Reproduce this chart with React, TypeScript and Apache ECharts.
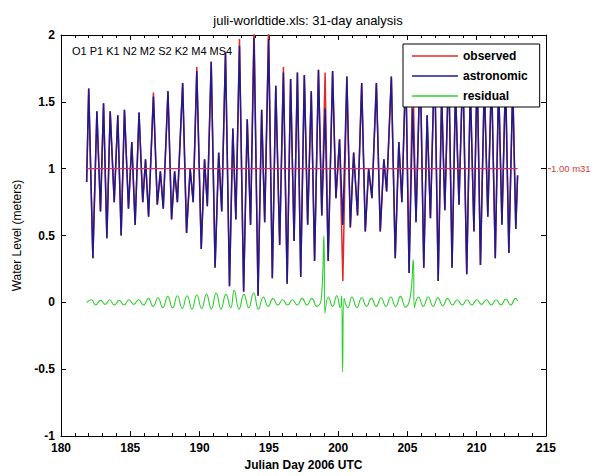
import React, { useEffect, useRef } from "react";
import * as echarts from "echarts";

const titleText = "juli-worldtide.xls: 31-day analysis";
const constituentsText = "O1 P1 K1 N2 M2 S2 K2 M4 MS4";
const xAxisName = "Julian Day 2006 UTC";
const yAxisName = "Water Level (meters)";
const seriesNames = ["observed", "astronomic", "residual"];
const meanLevel = 1.0;
const meanLabel = "1.00 m31";
const meanSpan = [181.85, 212.95];

// astronomic tide: successive highs/lows [julian day, level m]
const astronomic: [number, number][] = [
  [181.85, 0.9], [182.0, 1.6], [182.3, 0.33], [182.59, 1.43], [182.85, 0.68],
  [183.07, 1.49], [183.31, 0.48], [183.55, 1.43], [183.84, 0.75], [184.1, 1.4],
  [184.34, 0.5], [184.58, 1.44], [184.87, 0.7], [185.11, 1.2], [185.35, 0.58],
  [185.63, 1.42], [185.9, 0.75], [186.1, 1.07], [186.32, 0.64], [186.67, 1.54],
  [186.95, 0.73], [187.17, 0.98], [187.38, 0.7], [187.72, 1.58], [187.98, 0.62],
  [188.2, 0.98], [188.4, 0.75], [188.78, 1.64], [189.06, 0.52], [189.32, 1.0],
  [189.54, 0.75], [189.8, 1.73], [190.12, 0.4], [190.36, 1.07], [190.56, 0.72],
  [190.84, 1.8], [191.12, 0.26], [191.38, 1.12], [191.6, 0.68], [191.87, 1.87],
  [192.16, 0.12], [192.4, 1.3], [192.62, 0.62], [192.88, 1.92], [193.18, 0.08],
  [193.44, 1.37], [193.68, 0.58], [193.93, 1.98], [194.22, 0.05], [194.48, 1.44],
  [194.7, 0.6], [194.98, 1.97], [195.25, 0.18], [195.5, 1.62], [195.78, 0.43],
  [196.05, 1.72], [196.32, 0.14], [196.57, 1.67], [196.82, 0.46], [197.06, 1.72],
  [197.3, 0.19], [197.56, 1.7], [197.8, 0.58], [198.06, 1.58], [198.3, 0.31],
  [198.58, 1.74], [198.82, 0.65], [199.06, 1.45], [199.28, 0.31], [199.6, 1.73],
  [199.84, 0.78], [200.1, 1.22], [200.34, 0.58], [200.63, 1.69], [200.88, 0.56],
  [201.12, 1.12], [201.4, 0.65], [201.7, 1.64], [201.96, 0.53], [202.2, 1.0],
  [202.44, 0.78], [202.76, 1.64], [203.04, 0.53], [203.3, 1.07], [203.5, 0.83],
  [203.84, 1.69], [204.12, 0.33], [204.38, 1.2], [204.6, 0.75], [204.88, 1.76],
  [205.12, 0.22], [205.38, 1.45], [205.62, 0.6], [205.92, 1.82], [206.18, 0.26],
  [206.42, 1.4], [206.66, 0.63], [206.96, 1.84], [207.22, 0.16], [207.47, 1.55],
  [207.7, 0.69], [207.98, 1.8], [208.22, 0.26], [208.47, 1.6], [208.72, 0.73],
  [209.0, 1.78], [209.28, 0.21], [209.54, 1.62], [209.8, 0.53], [210.03, 1.75],
  [210.27, 0.28], [210.55, 1.65], [210.8, 0.64], [211.07, 1.7], [211.34, 0.33],
  [211.58, 1.65], [211.82, 0.58], [212.08, 1.68], [212.32, 0.37], [212.6, 1.62],
  [212.82, 0.55], [212.95, 0.95],
];

// observed levels where they differ from the astronomic prediction
const observedOverrides: [number, number][] = [
  [186.67, 1.57], [189.8, 1.76], [192.88, 1.97], [193.93, 2.08], [194.98, 2.06],
  [196.05, 1.76], [199.06, 1.72], [200.34, 0.16], [205.38, 1.77],
];

// residual (observed - astronomic)
const residual: [number, number][] = [
  [181.85, 0.0], [182.2, 0.02], [182.5, -0.02], [182.85, 0.015], [183.2, -0.015],
  [183.5, 0.02], [183.85, -0.02], [184.2, 0.015], [184.55, -0.02], [184.9, 0.02],
  [185.25, -0.015], [185.6, 0.02], [185.95, -0.02], [186.3, 0.03], [186.65, -0.03],
  [187.0, 0.035], [187.35, -0.04], [187.7, 0.045], [188.05, -0.04], [188.4, 0.05],
  [188.75, -0.045], [189.1, 0.05], [189.45, -0.05], [189.8, 0.055], [190.15, -0.045],
  [190.5, 0.06], [190.85, -0.05], [191.2, 0.07], [191.55, -0.05], [191.9, 0.06],
  [192.25, -0.04], [192.5, 0.09], [192.85, -0.05], [193.2, 0.06], [193.55, -0.04],
  [193.9, 0.07], [194.25, -0.05], [194.6, 0.04], [194.95, -0.03], [195.3, 0.03],
  [195.65, -0.02], [196.0, 0.02], [196.35, -0.02], [196.7, 0.02], [197.05, -0.02],
  [197.4, 0.03], [197.75, -0.02], [198.1, 0.03], [198.45, -0.03], [198.8, 0.04],
  [198.97, 0.5], [199.05, -0.08], [199.3, 0.04], [199.6, -0.03], [199.9, 0.05],
  [200.15, -0.04], [200.25, 0.05], [200.32, -0.52], [200.42, 0.03], [200.7, -0.04],
  [201.0, 0.04], [201.35, -0.04], [201.7, 0.035], [202.05, -0.03], [202.4, 0.03],
  [202.75, -0.03], [203.1, 0.035], [203.45, -0.03], [203.8, 0.04], [204.15, -0.03],
  [204.5, 0.045], [204.85, -0.035], [205.2, 0.04], [205.42, 0.32], [205.5, -0.04],
  [205.8, 0.04], [206.15, -0.03], [206.5, 0.04], [206.85, -0.03], [207.2, 0.035],
  [207.55, -0.025], [207.9, 0.03], [208.25, -0.02], [208.6, 0.02], [208.95, -0.02],
  [209.3, 0.02], [209.65, -0.02], [210.0, 0.02], [210.35, -0.015], [210.7, 0.02],
  [211.05, -0.02], [211.4, 0.02], [211.75, -0.02], [212.1, 0.025], [212.45, -0.02],
  [212.8, 0.03], [212.95, 0.01],
];

const FONT = "'Liberation Sans', Arial, Helvetica, sans-serif";

export default function App() {
  const ref = useRef<HTMLDivElement>(null);
  useEffect(() => {
    if (!ref.current) return;
    const chart = echarts.init(ref.current, null, { renderer: "svg" });
    const observed = astronomic.map(([d, v]) => {
      const o = observedOverrides.find((p) => p[0] === d);
      return [d, o ? o[1] : v];
    });
    const meanData = meanSpan.map((d) => [d, meanLevel]);
    const xCommon = {
      type: "value" as const,
      min: 180,
      max: 215,
      interval: 5,
      splitLine: { show: false },
      axisLine: { show: true, onZero: false, lineStyle: { color: "#000", width: 1 } },
      axisTick: { show: true, inside: true, length: 5, lineStyle: { color: "#000" } },
      minorTick: { show: true, splitNumber: 5, length: 3, lineStyle: { color: "#000" } },
    };
    const yCommon = {
      type: "value" as const,
      min: -1,
      max: 2,
      interval: 0.5,
      splitLine: { show: false },
      axisLine: { show: true, onZero: false, lineStyle: { color: "#000", width: 1 } },
      axisTick: { show: true, inside: true, length: 5, lineStyle: { color: "#000" } },
    };
    chart.setOption({
      animation: false,
      backgroundColor: "#fff",
      title: {
        text: titleText,
        left: 303,
        top: 9,
        textAlign: "center",
        textStyle: { fontFamily: FONT, fontSize: 13, fontWeight: "normal", color: "#000" },
      },
      grid: { left: 61, right: 46, top: 35, bottom: 36 },
      legend: {
        data: seriesNames,
        orient: "vertical",
        left: 403,
        top: 44,
        backgroundColor: "#fff",
        borderColor: "#000",
        borderWidth: 1,
        borderRadius: 0,
        padding: [6, 12, 5, 9],
        itemGap: 8,
        itemWidth: 46,
        itemHeight: 1.5,
        icon: "rect",
        textStyle: { fontFamily: FONT, fontSize: 12, fontWeight: "bold", color: "#000" },
      },
      xAxis: [
        {
          ...xCommon,
          position: "bottom",
          name: xAxisName,
          nameLocation: "middle",
          nameGap: 20,
          nameTextStyle: { fontFamily: FONT, fontSize: 12, fontWeight: "bold", color: "#000" },
          axisLabel: { fontFamily: FONT, fontSize: 12, fontWeight: "bold", color: "#000", margin: 6 },
        },
        { ...xCommon, position: "top", axisLabel: { show: false } },
      ],
      yAxis: [
        {
          ...yCommon,
          position: "left",
          name: yAxisName,
          nameLocation: "middle",
          nameRotate: 90,
          nameGap: 38,
          nameTextStyle: { fontFamily: FONT, fontSize: 12, fontWeight: "normal", color: "#000" },
          axisLabel: { fontFamily: FONT, fontSize: 12, fontWeight: "bold", color: "#000", margin: 6 },
        },
        { ...yCommon, position: "right", axisLabel: { show: false } },
      ],
      series: [
        {
          name: seriesNames[0],
          type: "line",
          data: observed,
          symbol: "none",
          lineStyle: { color: "#e02a2a", width: 1.5 },
          itemStyle: { color: "#e02a2a" },
          z: 2,
        },
        {
          name: seriesNames[1],
          type: "line",
          data: astronomic,
          symbol: "none",
          lineStyle: { color: "#1c1c90", width: 1.5 },
          itemStyle: { color: "#1c1c90" },
          z: 3,
        },
        {
          name: seriesNames[2],
          type: "line",
          data: residual,
          symbol: "none",
          smooth: 0.5,
          lineStyle: { color: "#2ccf2c", width: 1.1 },
          itemStyle: { color: "#2ccf2c" },
          z: 4,
        },
        {
          name: "mean",
          type: "line",
          data: meanData,
          symbol: "none",
          lineStyle: { color: "#cc3366", width: 1.3 },
          z: 5,
        },
      ],
    });
    const p = chart.convertToPixel({ xAxisIndex: 0, yAxisIndex: 0 }, [215, meanLevel]) as number[];
    const c = chart.convertToPixel({ xAxisIndex: 0, yAxisIndex: 0 }, [180, 2]) as number[];
    chart.setOption({
      graphic: [
        {
          type: "line",
          shape: { x1: p[0] + 2, y1: p[1], x2: p[0] + 5, y2: p[1] },
          style: { stroke: "#d43a3a", lineWidth: 1 },
        },
        {
          type: "text",
          x: p[0] + 5,
          y: p[1],
          style: {
            text: meanLabel,
            fill: "#d43a3a",
            font: `9.5px ${FONT}`,
            verticalAlign: "middle",
          },
        },
        {
          type: "text",
          x: c[0] + 11,
          y: c[1] + 16,
          style: {
            text: constituentsText,
            fill: "#000",
            font: `11px ${FONT}`,
            verticalAlign: "middle",
          },
        },
      ],
    });
    return () => chart.dispose();
  }, []);
  return (
    <div
      ref={ref}
      style={{ position: "absolute", left: 0, top: 0, width: 592, height: 476 }}
    />
  );
}
